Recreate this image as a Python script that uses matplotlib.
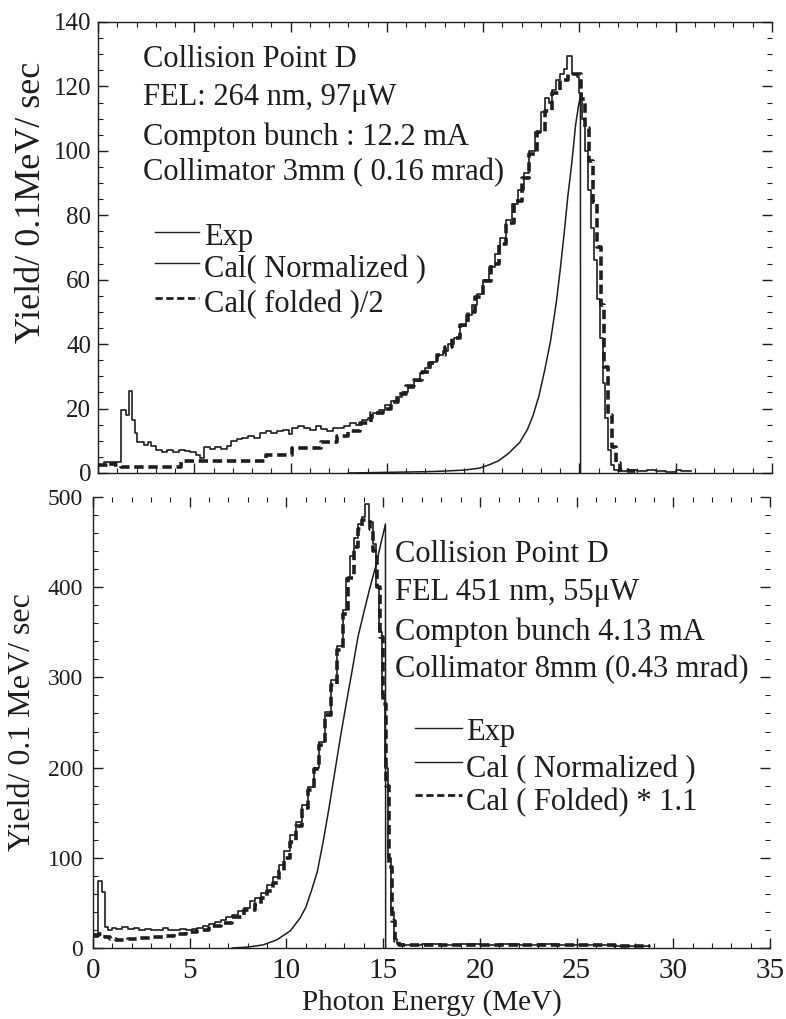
import matplotlib
matplotlib.use("Agg")
import matplotlib.pyplot as plt
from matplotlib.ticker import MultipleLocator

plt.rcParams['font.family'] = ['Liberation Serif', 'DejaVu Serif']

# ---------------- data: top panel (264 nm) ----------------
top_exp_e = [0.0, 0.3, 0.6, 0.9, 1.2, 1.45, 1.6, 1.75, 1.9, 2.05, 2.4, 2.6, 2.75, 3.0, 3.3, 3.6,
             3.9, 4.2, 4.5, 4.8, 5.1, 5.3, 5.5, 5.8, 6.1, 6.4, 6.7, 6.9, 7.2, 7.5, 7.8, 8.1,
             8.4, 8.7, 9.0, 9.3, 9.6, 9.9, 10.1, 10.4, 10.7, 11.0, 11.3, 11.6, 11.9, 12.2,
             12.5, 12.8, 13.1, 13.4, 13.7, 14.0, 14.3, 14.6, 14.9, 15.2, 15.5, 15.8, 16.1,
             16.4, 16.7, 17.0, 17.3, 17.6, 17.9, 18.2, 18.5, 18.8, 19.1, 19.4, 19.7, 20.0,
             20.3, 20.6, 20.9, 21.2, 21.5, 21.8, 22.1, 22.4, 22.7, 23.0, 23.2, 23.4, 23.6,
             23.8, 24.0, 24.2, 24.35, 24.6, 24.85, 25.0, 25.15, 25.3, 25.45, 25.6, 25.75,
             25.9, 26.05, 26.2, 26.35, 26.5, 26.65, 26.8, 27.0, 27.5, 28.0, 28.5, 29.0,
             29.5, 30.0, 30.3, 30.8]
top_exp_v = [2.5, 3.5, 2.5, 3.5, 19.5, 18.0, 25.5, 16.5, 12.5, 9.5, 8.8, 9.5, 8.5, 7.2, 6.5, 7.0,
             6.5, 7.2, 6.8, 6.5, 5.5, 4.8, 8.0, 7.5, 8.0, 7.5, 8.5, 10.0, 10.5, 10.8, 11.5, 11.0,
             12.5, 13.0, 12.5, 13.0, 13.5, 12.0, 14.0, 14.5, 14.0, 13.5, 14.5, 13.8, 13.0, 14.0,
             14.0, 14.5, 15.5, 15.0, 16.5, 17.0, 18.5, 19.5, 21.0, 22.5, 23.5, 25.0, 26.5,
             28.5, 31.0, 32.5, 34.5, 36.5, 38.0, 40.0, 42.0, 45.5, 49.0, 52.0, 55.5, 60.0,
             64.0, 68.0, 73.0, 78.5, 83.5, 88.0, 93.0, 100.0, 106.0, 112.0, 116.5, 115.0, 119.0,
             122.0, 124.0, 125.5, 129.5, 124.0, 123.0, 118.0, 110.0, 100.0, 88.0, 76.0, 66.0,
             54.0, 42.0, 28.0, 17.0, 7.0, 2.5, 1.0, 0.5, 1.0, 0.5, 1.0, 0.7,
             0.4, 1.0, 0.5, 0.5]

top_fold_e = [0.0, 0.5, 0.9, 1.2, 4.3, 8.7, 10.1, 11.6, 12.4, 13.0, 13.6, 14.2, 14.8, 15.2, 15.6,
              16.0, 16.4, 16.8, 17.2, 17.6, 18.0, 18.4, 18.8, 19.2, 19.6, 20.0, 20.4, 20.8,
              21.2, 21.6, 22.0, 22.4, 22.8, 23.2, 23.6, 24.0, 24.4, 24.8, 25.1, 25.3, 25.5,
              25.7, 25.9, 26.1, 26.3, 26.5, 26.7, 26.9, 27.1, 27.5, 28.0]
top_fold_v = [2.5, 3.0, 2.5, 1.8, 3.8, 5.5, 7.7, 9.5, 11.5, 13.0, 15.5, 18.5, 20.0, 22.0, 24.5,
              27.0, 29.0, 31.5, 34.0, 36.5, 39.0, 42.0, 46.0, 50.0, 54.5, 59.5, 65.0, 71.0,
              77.5, 84.5, 91.5, 99.0, 106.0, 112.5, 118.0, 122.0, 124.0, 124.0, 116.0, 107.0, 97.0,
              84.0, 70.0, 52.0, 33.0, 18.0, 8.0, 3.0, 1.0, 0.5, 0.5]

top_norm_e = [13.0, 15.0, 17.0, 18.0, 19.0, 19.8, 20.3, 20.8, 21.3, 21.9, 22.3, 22.6, 22.9,
              23.2, 23.5, 23.8, 24.0, 24.2, 24.4, 24.6, 24.8, 24.95, 25.05, 25.06]
top_norm_v = [0.0, 0.2, 0.4, 0.6, 0.9, 1.5, 2.5, 3.8, 6.0, 9.5, 13.5, 18.0, 24.0,
              32.0, 41.0, 53.0, 63.0, 74.0, 86.0, 96.0, 108.0, 114.0, 117.0, 0.0]

# ---------------- data: bottom panel (451 nm) ----------------
bot_exp_e = [0.0, 0.25, 0.45, 0.6, 0.8, 1.0, 1.2, 1.5, 1.8, 2.1, 2.4, 2.7, 3.0, 3.3, 3.6, 3.9,
             4.2, 4.5, 4.8, 5.1, 5.4, 5.7, 6.0, 6.3, 6.6, 6.9, 7.2, 7.5, 7.8, 8.1, 8.4, 8.7,
             9.0, 9.3, 9.6, 9.9, 10.2, 10.5, 10.8, 11.1, 11.4, 11.7, 12.0, 12.3, 12.6, 12.9,
             13.1, 13.3, 13.5, 13.7, 13.9, 14.05, 14.25, 14.45, 14.65, 14.8, 14.95, 15.1,
             15.25, 15.4, 15.55, 15.7, 16.0, 17.0, 18.0, 19.0, 20.0, 21.0, 22.0, 23.0, 24.0,
             25.0, 26.0, 27.0, 28.0, 28.8]
bot_exp_v = [12, 74, 62, 23, 20, 22, 21, 23, 21.5, 22, 19.5, 21, 20, 19.5, 22, 20,
             19.5, 21.5, 20, 21, 22, 24, 27, 29, 31.5, 34.5, 37, 41, 44, 52, 55, 61,
             70, 79, 92, 108, 125, 140, 158, 178, 200, 228, 262, 297, 335, 375,
             410, 435, 455, 470, 478, 492, 472, 448, 400, 350, 280, 200,
             100, 40, 10, 4, 3.5, 4, 3, 4, 3.5, 4, 3, 4, 3.5,
             3, 3.5, 2.5, 2.5, 2.5]

bot_fold_e = [0.0, 0.3, 0.6, 0.9, 1.2, 1.8, 2.4, 3.0, 3.6, 4.2, 4.8, 5.4, 6.0, 6.6, 7.2, 7.8,
              8.4, 8.7, 9.0, 9.3, 9.6, 9.9, 10.2, 10.5, 10.8, 11.1, 11.4, 11.7, 12.0, 12.3,
              12.6, 12.9, 13.2, 13.5, 13.7, 13.9, 14.1, 14.3, 14.5, 14.7, 14.85, 15.0, 15.15,
              15.3, 15.45, 15.6, 15.8, 17.0, 19.0, 21.0, 23.0, 25.0, 27.0, 28.8]
bot_fold_v = [14, 15, 12, 10, 9, 10, 11, 12, 13, 15, 18, 20, 24, 28, 34, 42,
              49, 55, 63, 72, 85, 100, 117, 135, 155, 175, 198, 225, 258, 292,
              330, 370, 410, 445, 465, 475, 474, 465, 440, 400, 345, 270, 180,
              90, 30, 8, 3, 3.5, 3, 3.5, 3, 3, 2.5, 2.5]

bot_norm_e = [7.2, 8.0, 8.8, 9.5, 10.2, 10.7, 11.0, 11.3, 11.6, 11.9, 12.2, 12.5, 12.8, 13.1,
              13.4, 13.7, 14.0, 14.3, 14.6, 14.9, 15.12, 15.13]
bot_norm_v = [0, 1, 3.5, 9, 19, 33, 45, 64, 85, 118, 155, 195, 235, 272,
              308, 345, 372, 398, 422, 450, 470, 0]

top_texts = ["Collision Point D", "FEL: 264 nm, 97\u03bcW",
             "Compton bunch : 12.2 mA", "Collimator 3mm ( 0.16 mrad)"]
top_legend = ["Exp", "Cal( Normalized )", "Cal( folded )/2"]
bot_texts = ["Collision Point D", "FEL 451 nm, 55\u03bcW",
             "Compton bunch 4.13 mA", "Collimator 8mm (0.43 mrad)"]
bot_legend = ["Exp", "Cal ( Normalized )", "Cal ( Folded) * 1.1"]

# ---------------- figure ----------------
W, H = 786, 1019
fig = plt.figure(figsize=(W / 100, H / 100), dpi=100)
ink = '#1e1e1e'

def fx(px):
    return px / W

def fy(py):
    return 1 - py / H

ax1 = fig.add_axes([fx(98), fy(473), fx(772) - fx(98), fy(22) - fy(473)])
ax2 = fig.add_axes([fx(93), fy(948), fx(770) - fx(93), fy(497) - fy(948)])

dash = (0, (2.6, 1.3))
for ax in (ax1, ax2):
    ax.set_xlim(0, 35)
    ax.xaxis.set_major_locator(MultipleLocator(5))
    ax.xaxis.set_minor_locator(MultipleLocator(1))
    ax.tick_params(which='both', direction='in', top=True, right=True, colors=ink)
    ax.tick_params(which='major', length=7, width=1.0)
    ax.tick_params(which='minor', length=3.5, width=0.8)
    ax.spines['right'].set_visible(False)
    for s in ax.spines.values():
        s.set_color(ink)
        s.set_linewidth(1.0)

# top panel
ax1.set_ylim(0, 140)
ax1.yaxis.set_major_locator(MultipleLocator(20))
ax1.yaxis.set_minor_locator(MultipleLocator(5))
ax1.tick_params(axis='x', labelbottom=False)
ax1.tick_params(axis='y', labelsize=18, pad=5)
ax1.step(top_exp_e, top_exp_v, where='post', color=ink, lw=1.2)
ax1.step(top_fold_e, top_fold_v, where='post', color=ink, lw=2.6, linestyle=dash)
ax1.plot(top_norm_e, top_norm_v, color=ink, lw=1.1)

# bottom panel
ax2.set_ylim(0, 500)
ax2.yaxis.set_major_locator(MultipleLocator(100))
ax2.yaxis.set_minor_locator(MultipleLocator(20))
ax2.spines['top'].set_visible(False)
ax2.tick_params(axis='y', labelsize=17, pad=7)
ax2.tick_params(axis='x', labelsize=21, pad=7)
ax2.step(bot_exp_e, bot_exp_v, where='post', color=ink, lw=1.2)
ax2.step(bot_fold_e, bot_fold_v, where='post', color=ink, lw=2.6, linestyle=dash)
ax2.plot(bot_norm_e, bot_norm_v, color=ink, lw=1.1)

# axis labels
fig.text(fx(32), fy(202), "Yield/ 0.1MeV/ sec", rotation=90, ha='center', va='center',
         fontsize=26, color=ink)
fig.text(fx(23), fy(722), "Yield/ 0.1 MeV/ sec", rotation=90, ha='center', va='center',
         fontsize=23, color=ink)
fig.text(fx(432), fy(1010), "Photon Energy (MeV)", ha='center', va='baseline',
         fontsize=21, color=ink)

# annotations
for t, b in zip(top_texts, [66.7, 105, 145, 180]):
    fig.text(fx(143), fy(b), t, ha='left', va='baseline', fontsize=22, color=ink)
for t, b in zip(bot_texts, [562, 600, 640, 677]):
    fig.text(fx(395), fy(b), t, ha='left', va='baseline', fontsize=22, color=ink)

def legend_rows(x0, x1, xt, rows, labels):
    for i, ((ly, tb), lab) in enumerate(zip(rows, labels)):
        style = dash if i == 2 else '-'
        lw = 2.0 if i == 2 else 1.0
        fig.add_artist(plt.Line2D([fx(x0), fx(x1)], [fy(ly), fy(ly)], color=ink, lw=lw,
                                  linestyle=style, transform=fig.transFigure))
        fig.text(fx(xt), fy(tb), lab, ha='left', va='baseline', fontsize=22, color=ink)

legend_rows(155, 199, 204, [(232, 245), (263, 277), (298, 312)], top_legend)
legend_rows(415, 462, 466, [(728, 740), (762, 777), (795, 810)], bot_legend)

fig.savefig("out.png", dpi=100, facecolor='white')
